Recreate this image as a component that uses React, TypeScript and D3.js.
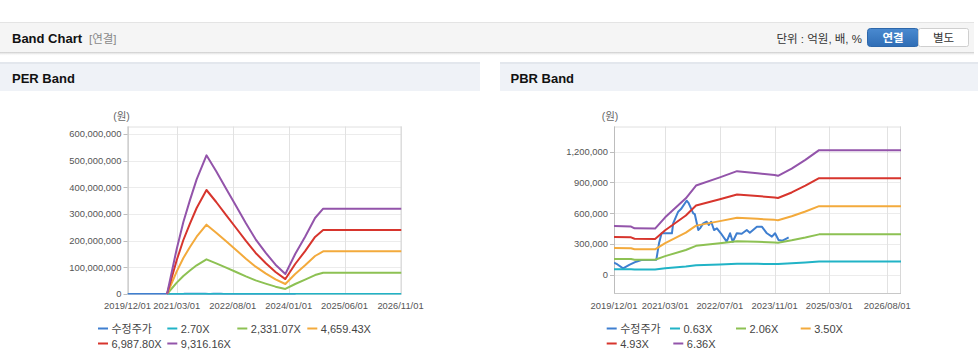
import React from 'react';
import * as d3 from 'd3';

const FONT = "'Liberation Sans', Arial, 'Noto Sans CJK KR', sans-serif";

// ---------- shared adjusted price (수정주가), won ----------
const priceDates = [
  '2019-12-01', '2020-01-01', '2020-02-20', '2020-04-15', '2020-06-15', '2020-08-01', '2020-12-12',
  '2021-01-05', '2021-01-28', '2021-04-30', '2021-05-11', '2021-06-25', '2021-07-20', '2021-09-08',
  '2021-09-25', '2021-11-06', '2021-11-20', '2021-12-21', '2022-01-05', '2022-02-03', '2022-03-06',
  '2022-03-25', '2022-04-15', '2022-05-10', '2022-06-05', '2022-07-10', '2022-08-31', '2022-09-30',
  '2022-10-24', '2022-11-29', '2023-01-12', '2023-02-26', '2023-03-25', '2023-05-27', '2023-07-10',
  '2023-08-24', '2023-10-08', '2023-11-05', '2023-12-06', '2024-01-10', '2024-02-19', '2024-03-05',
];
const priceValues = [
  117000, 100000, 62000, 95000, 127000, 143000, 145000,
  306000, 404000, 404000, 501000, 615000, 640000, 722000,
  700000, 599000, 590000, 436000, 452000, 501000, 517000,
  485000, 517000, 436000, 452000, 404000, 322000, 404000,
  322000, 404000, 400000, 436000, 410000, 468000, 468000,
  404000, 371000, 404000, 338000, 332000, 355000, 364000,
];

// ---------- PER band, won ----------
const perDates = [
  '2020-12-01', '2021-03-01', '2021-05-01', '2021-07-01', '2021-09-01', '2021-12-01', '2022-03-01',
  '2022-06-01', '2022-09-01', '2022-12-01', '2023-03-01', '2023-06-01', '2023-09-01', '2023-12-01',
  '2024-03-01', '2024-06-01', '2024-09-01', '2024-11-15', '2026-11-10',
];
const per270 = [
  0, 49e3, 78e3, 102e3, 125e3, 150e3, 133e3, 115e3, 96e3, 76e3, 59e3, 45e3, 32e3, 22e3, 43e3, 63e3, 82e3, 93e3, 93e3,
];
const per2331 = [
  0, 42.5e6, 67.5e6, 88e6, 107.5e6, 130e6, 115e6, 99e6, 82.5e6, 66e6, 51e6, 39e6, 27.5e6, 19e6, 37.5e6, 54e6, 71e6, 80e6, 80e6,
];
const per4659 = [
  0, 85e6, 135e6, 176e6, 215e6, 260e6, 230e6, 197.5e6, 165e6, 132.5e6, 102.5e6, 77.5e6, 55e6, 37.5e6, 75e6, 107.5e6, 142.5e6, 160e6, 160e6,
];
const per6987 = [
  0, 127.5e6, 202.5e6, 264e6, 322.5e6, 390e6, 345e6, 296e6, 247.5e6, 199e6, 154e6, 116e6, 82.5e6, 56e6, 112.5e6, 161e6, 214e6, 240e6, 240e6,
];
const per9316 = [
  0, 170e6, 270e6, 352e6, 430e6, 520e6, 460e6, 395e6, 330e6, 265e6, 205e6, 155e6, 110e6, 75e6, 150e6, 215e6, 285e6, 320e6, 320e6,
];
const perLabels = ['수정주가', '2.70X', '2,331.07X', '4,659.43X', '6,987.80X', '9,316.16X'];
const perXTicks = ['2019-12-01', '2021-03-01', '2022-08-01', '2024-01-01', '2025-06-01', '2026-11-01'];
const perYTicks = [0, 100e6, 200e6, 300e6, 400e6, 500e6, 600e6];

// ---------- PBR band, won ----------
const pbrDates = [
  '2019-12-01', '2020-05-01', '2020-06-01', '2020-12-01', '2021-03-01', '2021-09-01', '2021-12-01',
  '2022-07-01', '2022-12-01', '2023-06-01', '2023-11-01', '2023-12-01', '2024-04-01', '2024-08-01',
  '2024-12-01', '2026-12-01',
];
const pbr063 = [52e3, 52e3, 50e3, 50e3, 62e3, 80e3, 92e3, 100e3, 108e3, 106e3, 104e3, 104e3, 112e3, 120e3, 128e3, 128e3];
const pbr206 = [
  153.9e3, 152.2e3, 146.4e3, 145.8e3, 181.4e3, 241.3e3, 281.8e3, 307.7e3, 327.1e3, 320.7e3, 314.8e3, 312.6e3, 335.2e3, 362.8e3, 393.5e3, 393.5e3,
];
const pbr350 = [
  261.4e3, 258.6e3, 248.7e3, 247.6e3, 308.2e3, 410e3, 478.8e3, 522.8e3, 555.8e3, 544.8e3, 534.9e3, 531e3, 569.6e3, 616.3e3, 668.6e3, 668.6e3,
];
const pbr493 = [
  368.2e3, 364.3e3, 350.4e3, 348.8e3, 434.1e3, 577.5e3, 674.4e3, 736.4e3, 783e3, 767.4e3, 753.5e3, 748.1e3, 802.3e3, 868.2e3, 941.9e3, 941.9e3,
];
const pbr636 = [
  475e3, 470e3, 452e3, 450e3, 560e3, 745e3, 870e3, 950e3, 1010e3, 990e3, 972e3, 965e3, 1035e3, 1120e3, 1215e3, 1215e3,
];
const pbrLabels = ['수정주가', '0.63X', '2.06X', '3.50X', '4.93X', '6.36X'];
const pbrXTicks = ['2019-12-01', '2021-03-01', '2022-07-01', '2023-11-01', '2025-03-01', '2026-08-01'];
const pbrYTicks = [0, 300e3, 600e3, 900e3, 1200e3];

const COLORS = ['#3f7fd0', '#21b3c6', '#8dc153', '#f3aa3c', '#d7352d', '#9354aa'];

const parse = d3.timeParse('%Y-%m-%d');
const fmtDate = d3.timeFormat('%Y/%m/%d');
const fmtNum = d3.format(',');

type Layout = {
  id: string;
  x0: number; x1: number;
  yTop: number; yBottom: number;
  yZeroPx: number; yMaxPx: number; yMax: number;
  xEnd: string;
  legendX: number[][];
  unitX: number;
};

function BandChart({ layout, bandDates, bands, labels, xTicks, yTicks }: {
  layout: Layout; bandDates: string[]; bands: number[][]; labels: string[]; xTicks: string[]; yTicks: number[];
}) {
  const L = layout;
  const x = d3.scaleTime().domain([parse('2019-12-01')!, parse(L.xEnd)!]).range([L.x0, L.x1]);
  const y = d3.scaleLinear().domain([0, L.yMax]).range([L.yZeroPx, L.yMaxPx]);
  const line = d3.line<[Date, number]>().x(d => x(d[0])).y(d => y(d[1])).curve(d3.curveLinear);
  const priceData: [Date, number][] = priceDates.map((d, i) => [parse(d)!, priceValues[i]]);
  const bd = bandDates.map(d => parse(d)!);
  const series: [Date, number][][] = [priceData, ...bands.map(b => b.map((v, i) => [bd[i], v] as [Date, number]))];
  return (
    <g>
      <defs>
        <clipPath id={`clip-${L.id}`}>
          <rect x={L.x0} y={L.yTop} width={L.x1 - L.x0} height={L.yBottom - L.yTop + 1} />
        </clipPath>
      </defs>
      {/* grid */}
      {yTicks.map(t => (
        <line key={'gy' + t} x1={L.x0} x2={L.x1} y1={Math.round(y(t)) + 0.5} y2={Math.round(y(t)) + 0.5} stroke="#ececec" />
      ))}
      {xTicks.map(t => (
        <line key={'gx' + t} x1={Math.round(x(parse(t)!)) + 0.5} x2={Math.round(x(parse(t)!)) + 0.5} y1={L.yTop} y2={L.yBottom} stroke="#e2e2e2" />
      ))}
      {/* frame */}
      <line x1={L.x0} x2={L.x1} y1={L.yTop + 0.5} y2={L.yTop + 0.5} stroke="#e0e0e0" />
      <line x1={L.x1 - 0.5} x2={L.x1 - 0.5} y1={L.yTop} y2={L.yBottom} stroke="#d8d8d8" />
      <line x1={L.x0 + 0.5} x2={L.x0 + 0.5} y1={L.yTop} y2={L.yBottom + 0.5} stroke="#bdbdbd" />
      <line x1={L.x0} x2={L.x1} y1={L.yBottom + 0.5} y2={L.yBottom + 0.5} stroke="#c8c8c8" />
      {/* y labels */}
      {yTicks.map(t => (
        <g key={'yl' + t}>
          <line x1={L.x0 - 4} x2={L.x0} y1={Math.round(y(t)) + 0.5} y2={Math.round(y(t)) + 0.5} stroke="#bdbdbd" />
          <text x={L.x0 - 6} y={y(t) + 3.3} textAnchor="end" fontSize={9.4} fill="#555" fontFamily={FONT}>{fmtNum(t)}</text>
        </g>
      ))}
      {/* x labels */}
      {xTicks.map(t => (
        <text key={'xl' + t} x={x(parse(t)!)} y={309} textAnchor="middle" fontSize={9.4} fill="#555" fontFamily={FONT}>{fmtDate(parse(t)!)}</text>
      ))}
      <text x={L.unitX} y={120} textAnchor="middle" fontSize={10.5} fill="#666" fontFamily={FONT}>(원)</text>
      {/* series */}
      <g clipPath={`url(#clip-${L.id})`}>
        {series.map((s, i) => (
          <path key={'s' + i} d={line(s) || ''} fill="none" stroke={COLORS[i]} strokeWidth={2} strokeLinejoin="round" />
        ))}
      </g>
      {/* legend */}
      {labels.map((lab, i) => {
        const [lx, ly] = L.legendX[i];
        return (
          <g key={'lg' + i}>
            <line x1={lx} x2={lx + 10} y1={ly - 4} y2={ly - 4} stroke={COLORS[i]} strokeWidth={2} />
            <text x={lx + 13.5} y={ly} fontSize={11} fill="#444" fontFamily={FONT}>{lab}</text>
          </g>
        );
      })}
    </g>
  );
}

const perLayout: Layout = {
  id: 'per', x0: 127.5, x1: 401.5, yTop: 126.5, yBottom: 293.5, yZeroPx: 294, yMaxPx: 134, yMax: 600e6,
  xEnd: '2026-11-10',
  legendX: [[98, 332.5], [167.3, 332.5], [237.3, 332.5], [307.3, 332.5], [98, 347.5], [167.3, 347.5]],
  unitX: 121.5,
};
const pbrLayout: Layout = {
  id: 'pbr', x0: 614, x1: 901, yTop: 126.5, yBottom: 293, yZeroPx: 274.7, yMaxPx: 151.7, yMax: 1200e3,
  xEnd: '2026-12-01',
  legendX: [[606.7, 332.5], [670, 332.5], [736, 332.5], [800.7, 332.5], [606.7, 347.5], [673.3, 347.5]],
  unitX: 610,
};

export default function App() {
  return (
    <svg width={978} height={361} style={{ position: 'absolute', left: 0, top: 0, background: '#fff' }} fontFamily={FONT}>
      <defs>
        <linearGradient id="shadow" x1="0" y1="0" x2="0" y2="1">
          <stop offset="0" stopColor="#c9c9c9" />
          <stop offset="1" stopColor="#ffffff" stopOpacity={0} />
        </linearGradient>
        <linearGradient id="btn" x1="0" y1="0" x2="0" y2="1">
          <stop offset="0" stopColor="#4a8ad0" />
          <stop offset="1" stopColor="#2f6db5" />
        </linearGradient>
      </defs>
      {/* top bar */}
      <rect x={0} y={22} width={974} height={30} fill="#f5f5f5" />
      <line x1={0} x2={974} y1={22.5} y2={22.5} stroke="#e4e4e4" />
      <rect x={0} y={52} width={974} height={4} fill="url(#shadow)" />
      <text x={12} y={42.5} fontSize={13} fontWeight="bold" fill="#111" fontFamily={FONT}>Band Chart</text>
      <text x={89} y={42.5} fontSize={11.5} fill="#888" fontFamily={FONT}>[연결]</text>
      <text x={862} y={42.5} textAnchor="end" fontSize={11.5} fill="#333" fontFamily={FONT}>단위 : 억원, 배, %</text>
      <rect x={867.5} y={28.5} width={51} height={18} rx={3} fill="url(#btn)" stroke="#2d67aa" />
      <text x={893} y={41.5} textAnchor="middle" fontSize={11.5} fontWeight="bold" fill="#fff" fontFamily={FONT}>연결</text>
      <rect x={918.5} y={28.5} width={50} height={18} rx={2} fill="#fff" stroke="#cfcfcf" />
      <text x={943.5} y={41.5} textAnchor="middle" fontSize={11.5} fill="#333" fontFamily={FONT}>별도</text>

      {/* panel headers */}
      <rect x={0} y={62} width={480} height={29} fill="#eff2f7" />
      <rect x={0} y={62} width={480} height={2} fill="#e3e7ed" />
      <text x={12} y={82.5} fontSize={13} fontWeight="bold" fill="#111" fontFamily={FONT}>PER Band</text>
      <rect x={500} y={62} width={478} height={29} fill="#eff2f7" />
      <rect x={500} y={62} width={478} height={2} fill="#e3e7ed" />
      <text x={510.5} y={82.5} fontSize={13} fontWeight="bold" fill="#111" fontFamily={FONT}>PBR Band</text>

      <BandChart layout={perLayout} bandDates={perDates} bands={[per270, per2331, per4659, per6987, per9316]}
        labels={perLabels} xTicks={perXTicks} yTicks={perYTicks} />
      <BandChart layout={pbrLayout} bandDates={pbrDates} bands={[pbr063, pbr206, pbr350, pbr493, pbr636]}
        labels={pbrLabels} xTicks={pbrXTicks} yTicks={pbrYTicks} />
    </svg>
  );
}
